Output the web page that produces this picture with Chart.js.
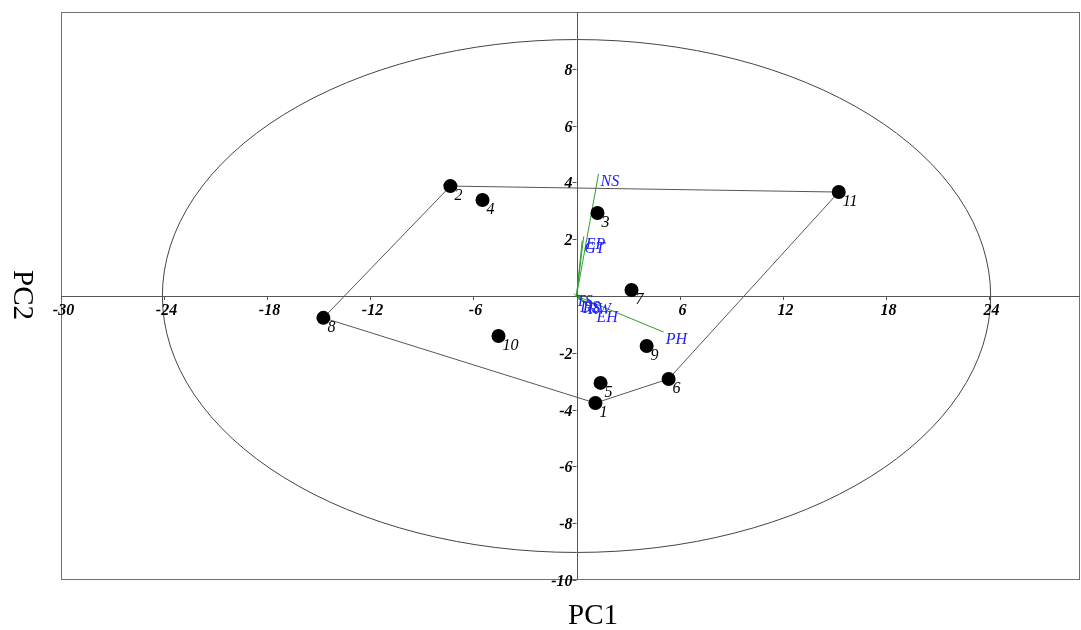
<!DOCTYPE html>
<html>
<head>
<meta charset="utf-8">
<script src="https://cdn.jsdelivr.net/npm/chart.js@4.4.0/dist/chart.umd.min.js"></script>
<style>
html,body{margin:0;padding:0;background:#fff;}
canvas{display:block;}
</style>
</head>
<body>
<canvas id="c" width="1081" height="630"></canvas>
<script>
// ---- Data ----
const sampleLabels = ["1","2","3","4","5","6","7","8","9","10","11"];
const pc1Scores = [1.1, -7.34, 1.22, -5.47, 1.4, 5.36, 3.2, -14.73, 4.08, -4.54, 15.26];
const pc2Scores = [-3.77, 3.87, 2.92, 3.38, -3.06, -2.92, 0.21, -0.77, -1.76, -1.41, 3.66];
const hullOrder = ["2","11","6","1","8","2"];

const loadingLabels = ["NS","EP","GT","PH","EH","DS","RS","RW","TS"];
const loadingPC1 = [1.28, 0.42, 0.33, 5.07, 1.05, 0.1, 0.25, 0.55, -0.15];
const loadingPC2 = [4.3, 2.1, 1.95, -1.27, -0.5, -0.12, -0.18, -0.22, 0.08];

const xTicks = [-30, -24, -18, -12, -6, 6, 12, 18, 24];
const yTicks = [8, 6, 4, 2, -2, -4, -6, -8, -10];
const ellipseRadiusPC1 = 24.1;
const ellipseRadiusPC2 = 9.03;

// ---- Datasets ----
const pointData = pc1Scores.map((x, i) => ({x: x, y: pc2Scores[i]}));
const hullData = hullOrder.map(l => { const i = sampleLabels.indexOf(l); return {x: pc1Scores[i], y: pc2Scores[i]}; });

const datasets = [];
datasets.push({
  label: 'hull', data: hullData, showLine: true, pointRadius: 0,
  borderColor: '#555', borderWidth: 1, fill: false, order: 3
});
loadingLabels.forEach((lab, i) => {
  datasets.push({
    label: lab, data: [{x: 0, y: 0}, {x: loadingPC1[i], y: loadingPC2[i]}],
    showLine: true, pointRadius: 0, borderColor: '#2e9e2e', borderWidth: 1, order: 2
  });
});
datasets.push({
  label: 'samples', data: pointData, pointRadius: 7, pointHoverRadius: 7,
  backgroundColor: '#000', borderColor: '#000', borderWidth: 0, showLine: false, order: 1
});

const serif = '"Liberation Serif", "Times New Roman", serif';

const decor = {
  id: 'decor',
  beforeDatasetsDraw(chart) {
    const ctx = chart.ctx, a = chart.chartArea;
    const xs = chart.scales.x, ys = chart.scales.y;
    const x0 = xs.getPixelForValue(0), y0 = ys.getPixelForValue(0);
    ctx.save();
    // frame
    ctx.strokeStyle = '#707070'; ctx.lineWidth = 1;
    ctx.strokeRect(a.left + 0.5, a.top + 0.5, a.right - a.left - 1, a.bottom - a.top - 1);
    // ellipse
    const rx = xs.getPixelForValue(ellipseRadiusPC1) - x0;
    const ry = y0 - ys.getPixelForValue(ellipseRadiusPC2);
    ctx.strokeStyle = '#444';
    ctx.beginPath(); ctx.ellipse(x0, y0, rx, ry, 0, 0, Math.PI * 2); ctx.stroke();
    // axes
    ctx.strokeStyle = '#555';
    ctx.beginPath();
    ctx.moveTo(a.left, Math.round(y0) + 0.5); ctx.lineTo(a.right, Math.round(y0) + 0.5);
    ctx.moveTo(Math.round(x0) + 0.5, a.top); ctx.lineTo(Math.round(x0) + 0.5, a.bottom);
    ctx.stroke();
    // ticks
    ctx.fillStyle = '#000';
    ctx.font = 'italic bold 16px ' + serif;
    ctx.textAlign = 'center'; ctx.textBaseline = 'middle';
    xTicks.forEach(v => {
      const px = Math.round(xs.getPixelForValue(v)) + 0.5;
      ctx.beginPath(); ctx.moveTo(px, y0); ctx.lineTo(px, y0 + 4); ctx.stroke();
      ctx.fillText(String(v), px + 2, y0 + 15);
    });
    ctx.textAlign = 'right';
    yTicks.forEach(v => {
      const py = Math.round(ys.getPixelForValue(v)) + 0.5;
      ctx.beginPath(); ctx.moveTo(x0 - 4, py); ctx.lineTo(x0, py); ctx.stroke();
      ctx.fillText(String(v), x0 - 4, py + 1);
    });
    ctx.restore();
  },
  afterDatasetsDraw(chart) {
    const ctx = chart.ctx;
    const xs = chart.scales.x, ys = chart.scales.y;
    ctx.save();
    // sample labels
    ctx.fillStyle = '#000';
    ctx.font = 'italic 16px ' + serif;
    ctx.textAlign = 'left'; ctx.textBaseline = 'middle';
    sampleLabels.forEach((l, i) => {
      const px = xs.getPixelForValue(pc1Scores[i]), py = ys.getPixelForValue(pc2Scores[i]);
      ctx.fillText(l, px + 4, py + 10);
    });
    // loading labels
    ctx.fillStyle = '#2020ff';
    ctx.font = 'italic 16px ' + serif;
    loadingLabels.forEach((l, i) => {
      const px = xs.getPixelForValue(loadingPC1[i]), py = ys.getPixelForValue(loadingPC2[i]);
      ctx.fillText(l, px + 2, py + 8);
    });
    // axis titles
    ctx.fillStyle = '#000';
    ctx.font = '29px ' + serif;
    ctx.textAlign = 'center';
    ctx.fillText('PC1', 593, 616);
    ctx.translate(22, 295);
    ctx.rotate(Math.PI / 2);
    ctx.fillText('PC2', 0, 0);
    ctx.restore();
  }
};

new Chart(document.getElementById('c'), {
  type: 'scatter',
  data: { datasets: datasets },
  options: {
    responsive: false,
    animation: false,
    devicePixelRatio: 1,
    layout: { autoPadding: false, padding: { left: 61, right: 1, top: 12, bottom: 50 } },
    plugins: { legend: { display: false }, tooltip: { enabled: false } },
    scales: {
      x: { type: 'linear', min: -30, max: 29.3, display: false },
      y: { type: 'linear', min: -10, max: 10, display: false }
    }
  },
  plugins: [decor]
});
</script>
</body>
</html>
